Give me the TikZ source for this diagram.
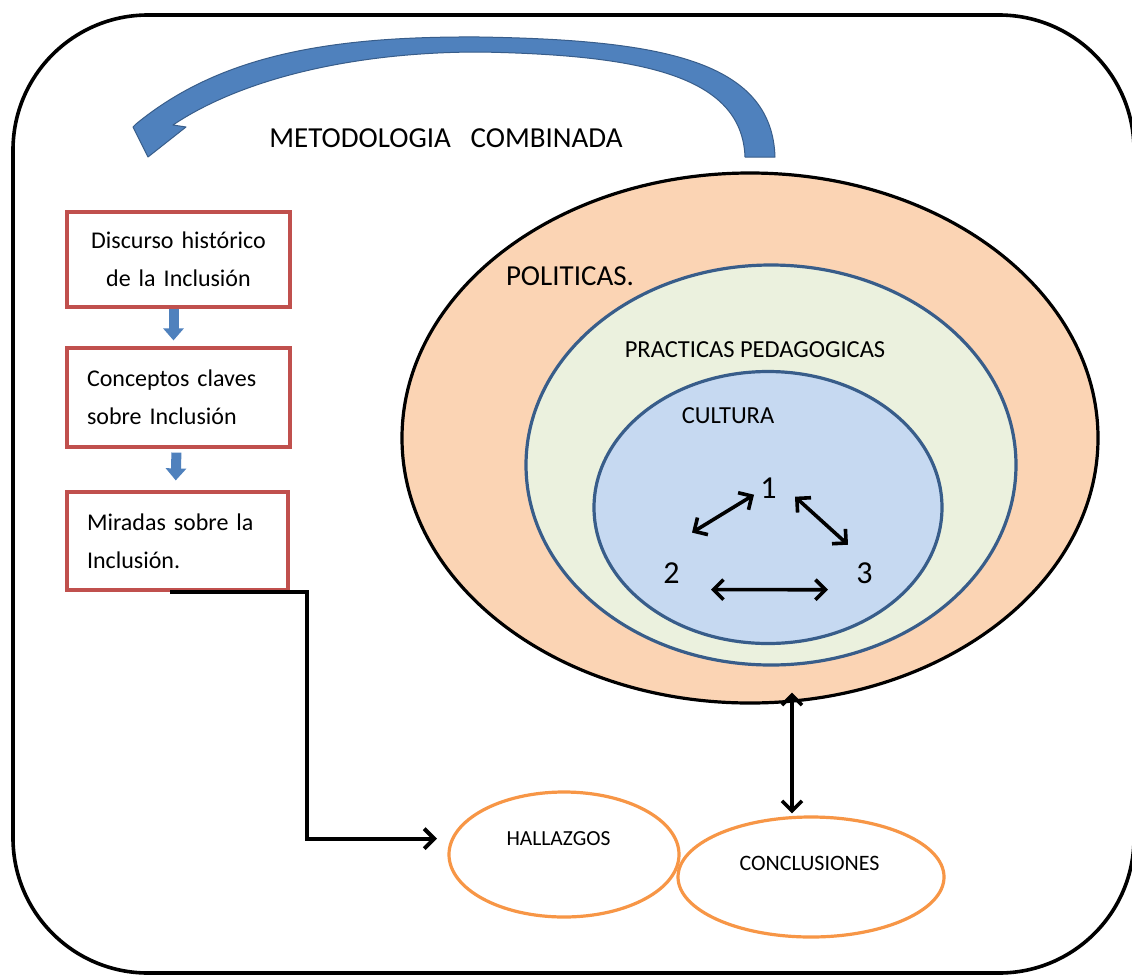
\documentclass[tikz,border=0pt]{standalone}
\usepackage{fontspec}
\setmainfont{Carlito}
\usetikzlibrary{arrows.meta,shapes.geometric,calc}
\definecolor{boxred}{RGB}{192,80,77}
\definecolor{arrowblue}{RGB}{79,129,189}
\definecolor{arrowdark}{RGB}{56,93,138}
\definecolor{ringblue}{RGB}{56,93,138}
\definecolor{peach}{RGB}{251,212,180}
\definecolor{palegreen}{RGB}{235,241,222}
\definecolor{paleblue}{RGB}{198,217,241}
\definecolor{orangeline}{RGB}{247,150,70}
\tikzset{
  box/.style={draw=boxred, line width=3.2pt, fill=white, rectangle, inner xsep=20pt, inner ysep=0pt,
    font=\fontsize{24}{38}\selectfont, minimum width=223pt},
  ring/.style={ellipse, line width=3.2pt, inner sep=0pt},
  oval/.style={ellipse, draw=orangeline, line width=3.2pt, fill=white, inner sep=0pt},
  blk/.style={draw=arrowblue, line width=10pt, -{Triangle[width=20pt,length=12pt]}},
  dbl/.style={draw=black, line width=3.6pt, {Straight Barb[length=10pt,width=20pt]}-{Straight Barb[length=10pt,width=20pt]}},
  conn/.style={draw=black, line width=4pt, -{Straight Barb[length=10pt,width=20pt]}},
  lbl/.style={anchor=base, inner sep=0pt}
}
\begin{document}
\begin{tikzpicture}[x=1pt,y=-1pt]
\useasboundingbox (0,0) rectangle (1132,975);
\fill[white] (0,0) rectangle (1132,975);
% outer frame
\draw[line width=3.6pt, rounded corners=135pt] (13,15) rectangle (1134,973);

% curved blue arrow
\filldraw[fill=arrowblue, draw=arrowdark, line width=1pt, line join=round]
  (775,157) .. controls (772,60) and (660,40) .. (480,37)
  .. controls (330,36) and (220,55) .. (136,124)
  -- (133,127) -- (148,157) -- (186,127) -- (173,125)
  .. controls (240,80) and (350,52) .. (480,52)
  .. controls (640,55) and (742,75) .. (745,157) -- cycle;
\node[lbl, font=\fontsize{29}{35}\selectfont] (metodo) at (446,147) {METODOLOGIA\ \ \ COMBINADA};

% boxes
\node[box, minimum height=95pt, text width=183pt, align=center] (b1) at (178.5,259.5) {Discurso histórico\\de la Inclusión};
\node[box, minimum height=99pt, text width=183pt, align=left] (b2) at (178.5,397.5) {Conceptos claves\\sobre Inclusión};
\node[box, minimum height=98pt, minimum width=221pt, text width=181pt, align=left] (b3) at (177.5,541) {Miradas sobre la\\Inclusión.};

\draw[blk, shorten >=6pt] ([xshift=-5pt]b1.south) -- ([xshift=-5pt]b2.north);
\draw[blk, shorten <=4pt, shorten >=10pt] ([xshift=-2pt]b2.south) -- ([xshift=-2pt]b3.north);

% nested ellipses
\node[ring, draw=black, fill=peach, minimum width=696pt, minimum height=530pt] (pol) at (750,438) {};
\node[ring, draw=ringblue, fill=palegreen, minimum width=490pt, minimum height=400pt] (prac) at (771,465) {};
\node[ring, draw=ringblue, fill=paleblue, minimum width=348pt, minimum height=272pt] (cul) at (768,507.5) {};

\node[lbl, font=\fontsize{29}{35}\selectfont] (tpol) at (570,285) {POLITICAS.};
\node[lbl, font=\fontsize{24.5}{30}\selectfont] (tprac) at (755,357) {PRACTICAS PEDAGOGICAS};
\node[lbl, font=\fontsize{24.5}{30}\selectfont] (tcul) at (728,423) {CULTURA};

\node[lbl, font=\fontsize{32}{38}\selectfont] (n1) at (768.5,498) {1};
\node[lbl, font=\fontsize{32}{38}\selectfont] (n2) at (671.5,583) {2};
\node[lbl, font=\fontsize{32}{38}\selectfont] (n3) at (864.5,583) {3};

\draw[dbl] ([shift={(-14.5,7)}]n1.center) -- ([shift={(20.5,-40)}]n2.center);
\draw[dbl] ([shift={(26.5,9)}]n1.center) -- ([shift={(-16.5,-28)}]n3.center);
\draw[dbl] ([shift={(39.5,17)}]n2.center) -- ([shift={(-36.5,17)}]n3.center);

% bottom ovals
\node[oval, minimum width=230pt, minimum height=125pt] (hall) at (564,854.5) {};
\node[oval, minimum width=266pt, minimum height=120pt] (concl) at (811,877) {};
\node[lbl, font=\fontsize{21.5}{26}\selectfont] (thall) at (558.5,845) {HALLAZGOS};
\node[lbl, font=\fontsize{22}{26}\selectfont] (tconcl) at (809.5,870) {CONCLUSIONES};

% connectors
\draw[dbl, shorten >=2pt] ([xshift=42pt,yshift=12pt]pol.south) -- ([xshift=-19pt]concl.north);
\draw[conn, shorten >=14pt] ([xshift=-7.5pt,yshift=-0.5pt]b3.south) -- ++(137,0) |- (hall.172);
\end{tikzpicture}
\end{document}
